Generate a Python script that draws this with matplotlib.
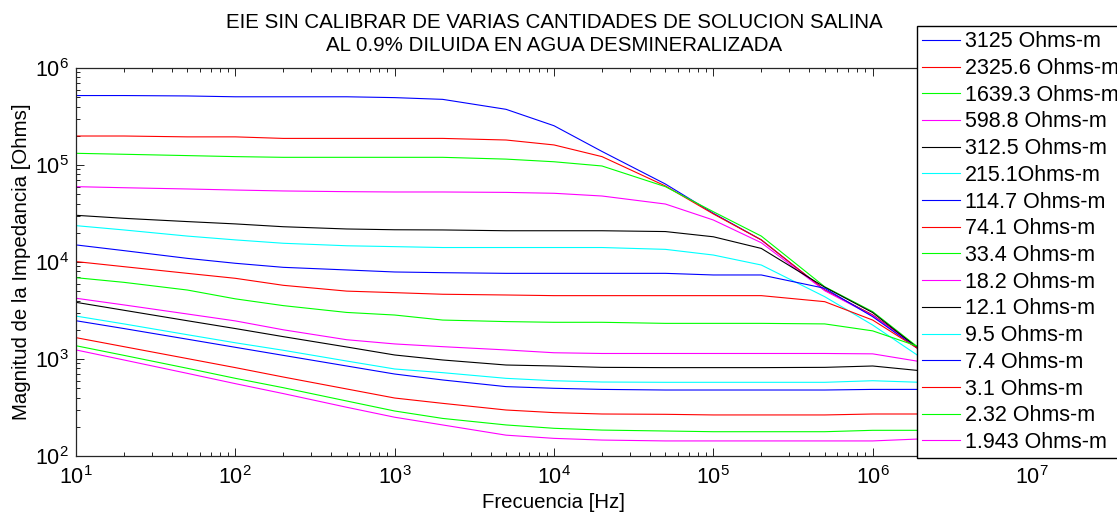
import numpy as np
import matplotlib.pyplot as plt

plt.rcParams['font.family'] = ['Liberation Sans', 'DejaVu Sans']
plt.rcParams['mathtext.fontset'] = 'custom'
plt.rcParams['mathtext.rm'] = 'Liberation Sans'
plt.rcParams['mathtext.it'] = 'Liberation Sans'

frecuencia = [10, 20, 50, 100, 200, 500, 1e3, 2e3, 5e3, 1e4, 2e4, 5e4, 1e5, 2e5, 5e5, 1e6, 2e6]

z_3125 = [520000, 520000, 515000, 505000, 505000, 505000, 495000, 475000, 375000, 254000, 138000, 63700, 31800, 16900, 5140, 2840, 1240]
z_2325 = [199000, 199000, 195000, 195000, 188000, 188000, 188000, 188000, 181000, 161000, 122000, 60800, 31300, 16900, 5140, 2840, 1240]
z_1639 = [132000, 129000, 125000, 122000, 120000, 120000, 120000, 120000, 115000, 108000, 97700, 59800, 33000, 18500, 5560, 3080, 1260]
z_598 = [59800, 58300, 56600, 55200, 54000, 53100, 52700, 52700, 52200, 51100, 47900, 39600, 27100, 15800, 5060, 2790, 1230]
z_312 = [30300, 28200, 26100, 24700, 23100, 21900, 21500, 21400, 21000, 21000, 21000, 20600, 18200, 13800, 5500, 3010, 1230]
z_215 = [23700, 21400, 18500, 16900, 15600, 14700, 14400, 14100, 14100, 14100, 14100, 13500, 11800, 9310, 4390, 2240, 1040]
z_114 = [15000, 13100, 10900, 9700, 8810, 8280, 7890, 7760, 7640, 7640, 7640, 7640, 7350, 7350, 5360, 2730, 1220]
z_74 = [10100, 8950, 7640, 6790, 5750, 5010, 4830, 4650, 4570, 4500, 4500, 4500, 4500, 4500, 3900, 2520, 1230]
z_33 = [6890, 6170, 5140, 4170, 3550, 3020, 2840, 2520, 2430, 2390, 2390, 2330, 2330, 2330, 2300, 1950, 1320]
z_18 = [4230, 3610, 2910, 2470, 2000, 1580, 1430, 1340, 1240, 1160, 1140, 1140, 1140, 1140, 1140, 1130, 938]
z_12 = [3840, 3180, 2480, 2060, 1700, 1330, 1100, 977, 867, 847, 820, 815, 815, 815, 820, 847, 757]
z_9 = [2770, 2300, 1780, 1470, 1230, 953, 789, 723, 632, 597, 579, 575, 575, 575, 575, 597, 575]
z_7 = [2480, 2060, 1600, 1320, 1090, 847, 700, 608, 519, 499, 486, 479, 479, 479, 479, 486, 486]
z_3 = [1660, 1340, 1010, 815, 652, 491, 396, 349, 298, 280, 271, 269, 265, 265, 265, 271, 271]
z_2 = [1370, 1090, 802, 632, 506, 369, 291, 244, 209, 193, 185, 181, 178, 178, 178, 184, 184]
z_1 = [1240, 977, 711, 557, 440, 318, 251, 209, 164, 152, 146, 143, 143, 143, 143, 143, 150]

series = [z_3125, z_2325, z_1639, z_598, z_312, z_215, z_114, z_74,
          z_33, z_18, z_12, z_9, z_7, z_3, z_2, z_1]
etiquetas = ['3125 Ohms-m', '2325.6 Ohms-m', '1639.3 Ohms-m', '598.8 Ohms-m',
             '312.5 Ohms-m', '215.1Ohms-m', '114.7 Ohms-m', '74.1 Ohms-m',
             '33.4 Ohms-m', '18.2 Ohms-m', '12.1 Ohms-m', '9.5 Ohms-m',
             '7.4 Ohms-m', '3.1 Ohms-m', '2.32 Ohms-m', '1.943 Ohms-m']
colores = ['#0000ff', '#ff0000', '#00ff00', '#ff00ff', '#000000', '#00ffff']

fig = plt.figure(figsize=(11.17, 5.12), dpi=100)
ax = fig.add_axes([76/1117, 56/512, 956/1117, 388/512])

for i, z in enumerate(series):
    ax.plot(frecuencia, z, color=colores[i % 6], lw=0.8, label=etiquetas[i])

ax.set_xscale('log')
ax.set_yscale('log')
ax.set_xlim(10, 1e7)
ax.set_ylim(1e2, 1e6)
ax.tick_params(which='both', direction='in', top=True, right=True, labelsize=15.5, width=0.6)
ax.tick_params(which='major', length=6)
ax.tick_params(which='minor', length=3)
ax.tick_params(axis='x', pad=7)
ax.tick_params(axis='y', pad=5)
for s in ax.spines.values():
    s.set_linewidth(0.9)
    s.set_color('#262626')

ax.set_xlabel('Frecuencia [Hz]', fontsize=14.7, labelpad=3)
ax.set_ylabel('Magnitud de la Impedancia [Ohms]', fontsize=14.7, labelpad=3)
ax.set_title('EIE SIN CALIBRAR DE VARIAS CANTIDADES DE SOLUCION SALINA\nAL 0.9% DILUIDA EN AGUA DESMINERALIZADA',
             fontsize=14.8, pad=12, linespacing=1.28)

leg = fig.legend(loc='upper left', bbox_to_anchor=(917/1117, 1 - 26/512), borderaxespad=0,
                 fontsize=15.5, frameon=True, fancybox=False, framealpha=1, edgecolor='black',
                 handlelength=1.75, handletextpad=0.24, labelspacing=0.265, borderpad=0.25)
leg.get_frame().set_linewidth(1.0)

fig.savefig('out.png', dpi=100)
